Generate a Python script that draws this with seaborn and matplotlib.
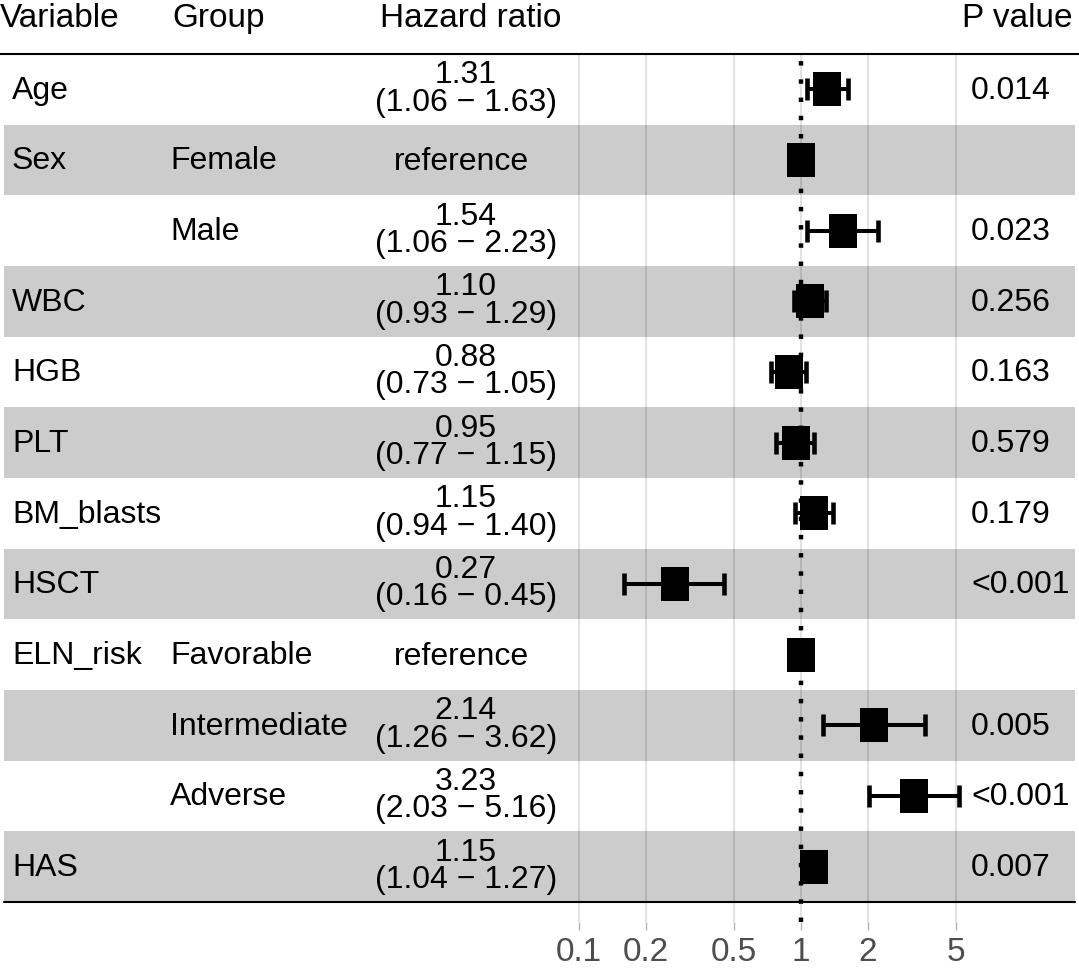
import numpy as np
import pandas as pd
import matplotlib
matplotlib.use("Agg")
import matplotlib.pyplot as plt
import seaborn as sns
from matplotlib.ticker import NullLocator

# ── Data ───────────────────────────────────────────────────
variables = ["Age", "Sex", "", "WBC", "HGB", "PLT", "BM_blasts", "HSCT",
             "ELN_risk", "", "", "HAS"]
groups = ["", "Female", "Male", "", "", "", "", "",
          "Favorable", "Intermediate", "Adverse", ""]
hazard_ratio = [1.31, 1.00, 1.54, 1.10, 0.88, 0.95, 1.15, 0.27,
                1.00, 2.14, 3.23, 1.15]
ci_low = [1.06, np.nan, 1.06, 0.93, 0.73, 0.77, 0.94, 0.16,
          np.nan, 1.26, 2.03, 1.04]
ci_high = [1.63, np.nan, 2.23, 1.29, 1.05, 1.15, 1.40, 0.45,
           np.nan, 3.62, 5.16, 1.27]
p_values = ["0.014", "", "0.023", "0.256", "0.163", "0.579", "0.179",
            "<0.001", "", "0.005", "<0.001", "0.007"]
axis_ticks = [0.1, 0.2, 0.5, 1, 2, 5]
axis_tick_labels = ["0.1", "0.2", "0.5", "1", "2", "5"]
headers = ["Variable", "Group", "Hazard ratio", "P value"]

df = pd.DataFrame({
    "variable": variables,
    "group": groups,
    "hr": hazard_ratio,
    "low": ci_low,
    "high": ci_high,
    "p": p_values,
})
df["row"] = np.arange(1, len(df) + 1)
df["reference"] = df["low"].isna()

# ── Style ──────────────────────────────────────────────────
sns.set_theme(style="white")
plt.rcParams["font.family"] = ["Liberation Sans", "DejaVu Sans"]
plt.rcParams["text.color"] = "black"

ROW_FS = 23
HEAD_FS = 24

fig = plt.figure(figsize=(10.79, 9.73), dpi=100)
ax = fig.add_axes([0, 1 - 922 / 973, 1, (922 - 54) / 973])

# log axis, whole figure width is the plot range
ax.set_xscale("log")
ax.set_xlim(10 ** (-801 / 222), 10 ** ((1079 - 801) / 222))

# stripes
for r in df["row"]:
    if r % 2 == 0:
        ax.axhspan(r - 0.5, r + 0.5, xmin=0.004, xmax=0.996,
                   color="black", alpha=0.2, lw=0, zorder=1)

# reference line
ax.axvline(1, color="black", lw=3.2, linestyle=(0, (1, 3.1)), zorder=3)

# confidence intervals
ci = df[~df["reference"]]
ax.errorbar(ci["hr"], ci["row"],
            xerr=[ci["hr"] - ci["low"], ci["high"] - ci["hr"]],
            fmt="none", ecolor="black", elinewidth=2.9,
            capsize=7.7, capthick=3.3, zorder=4)

# hazard ratio squares
box = [(-0.82, -1), (0.82, -1), (0.82, 1), (-0.82, 1), (-0.82, -1)]
sns.scatterplot(data=df, x="hr", y="row", marker=box, s=600,
                color="black", edgecolor="black", linewidth=0,
                zorder=5, legend=False, ax=ax)

ax.set_ylim(12.782, 0.5)
ax.set_xlabel("")
ax.set_ylabel("")

# header and bottom rules
ax.axhline(0.5, color="black", lw=1.5, zorder=6, clip_on=False)
ax.axhline(12.5, xmin=0.004, xmax=0.996, color="black", lw=1.5, zorder=6)

# grid + axis
ax.set_xticks(axis_ticks)
ax.set_xticklabels(axis_tick_labels)
ax.xaxis.set_minor_locator(NullLocator())
ax.grid(axis="x", color="#E2E2E2", lw=1.4, zorder=0.5)
ax.grid(axis="y", visible=False)
ax.set_axisbelow(True)
ax.tick_params(axis="x", length=5.8, width=1.0, color="#B3B3B3",
               labelcolor="#4D4D4D", labelsize=HEAD_FS, pad=5, bottom=True)
ax.tick_params(axis="y", left=False, labelleft=False)
for s in ax.spines.values():
    s.set_visible(False)

# ── Table text (x in axes fraction, y in rows) ─────────────
tr = ax.get_yaxis_transform()
X_VAR, X_GROUP, X_HR, X_P = 12 / 1079, 170 / 1079, 466 / 1079, 971 / 1079

ax.text(0.0, 0.118, headers[0], transform=tr, fontsize=HEAD_FS,
        ha="left", va="baseline", clip_on=False)
ax.text(172 / 1079, 0.118, headers[1], transform=tr, fontsize=HEAD_FS,
        ha="left", va="baseline", clip_on=False)
ax.text(471 / 1079, 0.118, headers[2], transform=tr, fontsize=HEAD_FS,
        ha="center", va="baseline", clip_on=False)
ax.text(1073 / 1079, 0.118, headers[3], transform=tr, fontsize=HEAD_FS,
        ha="right", va="baseline", clip_on=False)

for _, d in df.iterrows():
    y = d["row"]
    ax.text(X_VAR, y + 0.13, d["variable"], transform=tr, fontsize=ROW_FS,
            ha="left", va="baseline")
    ax.text(X_GROUP, y + 0.13, d["group"], transform=tr, fontsize=ROW_FS,
            ha="left", va="baseline")
    if d["reference"]:
        ax.text(X_HR - 5 / 1079, y + 0.14, "reference", transform=tr,
                fontsize=ROW_FS, ha="center", va="baseline")
    else:
        ax.text(X_HR, y - 0.085, f"{d['hr']:.2f}", transform=tr,
                fontsize=ROW_FS, ha="center", va="baseline")
        ax.text(X_HR, y + 0.3,
                f"({d['low']:.2f} \u2212 {d['high']:.2f})", transform=tr,
                fontsize=ROW_FS, ha="center", va="baseline")
    ax.text(X_P, y + 0.13, d["p"], transform=tr, fontsize=ROW_FS,
            ha="left", va="baseline")

fig.savefig("out.png", dpi=100)
